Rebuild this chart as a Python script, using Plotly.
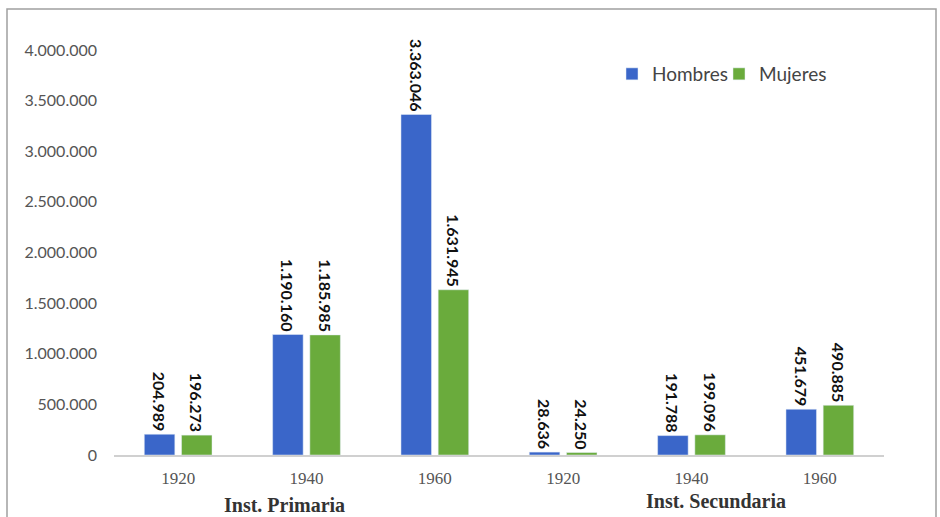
import plotly.graph_objects as go

categories = ["P-1920", "P-1940", "P-1960", "S-1920", "S-1940", "S-1960"]
year_labels = ["1920", "1940", "1960", "1920", "1940", "1960"]
hombres = [204989, 1190160, 3363046, 28636, 191788, 451679]
mujeres = [196273, 1185985, 1631945, 24250, 199096, 490885]
group_labels = ["Inst. Primaria", "Inst. Secundaria"]
y_ticks = [0, 500000, 1000000, 1500000, 2000000, 2500000, 3000000, 3500000, 4000000]


def fmt(v):
    return f"{v:,}".replace(",", ".")


label_font = dict(family="Lato", size=16, color="#111111", weight="bold")

fig = go.Figure()
fig.add_trace(go.Bar(
    x=categories, y=hombres, name="Hombres",
    marker=dict(color="#3a66c9"),
    text=[fmt(v) for v in hombres], textposition="outside", textangle=90,
    textfont=label_font, constraintext="none",
    cliponaxis=False, legend="legend",
))
fig.add_trace(go.Bar(
    x=categories, y=mujeres, name="Mujeres",
    marker=dict(color="#6aab3c"),
    text=[fmt(v) for v in mujeres], textposition="outside", textangle=90,
    textfont=label_font, constraintext="none",
    cliponaxis=False, legend="legend2",
))

W, H = 940, 517
L, R, T, B = 114, 56, 50, 62
pw, ph = W - L - R, H - T - B


def px_x(x):
    return (x - L) / pw


def px_y(y):
    return (H - B - y) / ph


legend_font = dict(family="Lato", size=19, color="#444444")

fig.update_layout(
    width=W, height=H,
    margin=dict(l=L, r=R, t=T, b=B),
    paper_bgcolor="white", plot_bgcolor="white",
    barmode="group", bargap=0.42, bargroupgap=0.18,
    showlegend=True,
    legend=dict(orientation="h", x=px_x(612), y=px_y(74), xanchor="left", yanchor="middle",
                font=legend_font, itemwidth=30, bgcolor="rgba(0,0,0,0)"),
    legend2=dict(orientation="h", x=px_x(719), y=px_y(74), xanchor="left", yanchor="middle",
                 font=legend_font, itemwidth=30, bgcolor="rgba(0,0,0,0)"),
    xaxis=dict(
        type="category", tickvals=categories, ticktext=year_labels,
        tickfont=dict(family="Liberation Serif", size=17, color="#555555"),
        showline=True, linecolor="#d0d0d0", linewidth=1.5,
        showgrid=False, ticks="", ticklabelstandoff=7,
    ),
    yaxis=dict(
        range=[0, 4000000], tickvals=y_ticks, ticktext=[fmt(v) for v in y_ticks],
        tickfont=dict(family="Lato", size=16, color="#555555"),
        showgrid=False, zeroline=False, showline=False, ticks="",
        ticklabelstandoff=16,
    ),
    font=dict(family="Lato"),
)

fig.add_annotation(text="<b>" + group_labels[0] + "</b>", xref="paper", yref="paper",
                   x=px_x(284), y=px_y(505), xanchor="center", yanchor="middle", showarrow=False,
                   font=dict(family="Liberation Serif", size=20, color="#333333"))
fig.add_annotation(text="<b>" + group_labels[1] + "</b>", xref="paper", yref="paper",
                   x=px_x(716), y=px_y(501), xanchor="center", yanchor="middle", showarrow=False,
                   font=dict(family="Liberation Serif", size=20, color="#333333"))

fig.add_shape(type="rect", xref="paper", yref="paper",
              x0=px_x(7), x1=px_x(936), y0=px_y(530), y1=px_y(9),
              line=dict(color="#a0a0a0", width=1.5), fillcolor="rgba(0,0,0,0)", layer="below")

fig.write_html("out.html")
